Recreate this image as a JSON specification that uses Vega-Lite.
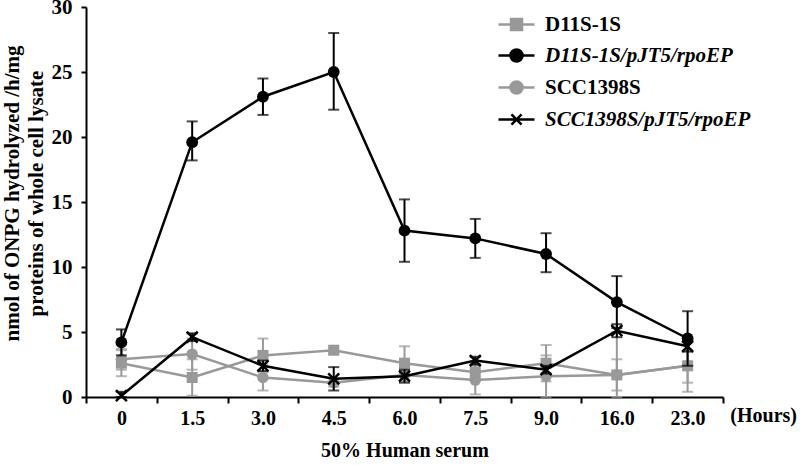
{
  "$schema": "https://vega.github.io/schema/vega-lite/v6.json",
  "width": 637,
  "height": 390,
  "autosize": {"type": "none"},
  "padding": {"left": 86, "top": 7, "right": 77, "bottom": 68},
  "background": "white",
  "title": {"text": "(Hours)", "orient": "bottom", "anchor": "end", "frame": "group", "align": "right", "baseline": "top", "offset": 0, "dx": 74, "dy": -54, "fontSize": 20, "fontWeight": "bold", "font": "Liberation Serif", "color": "black"},
  "config": {
    "font": "Liberation Serif",
    "view": {"stroke": null},
    "axis": {"domainColor": "black", "domainWidth": 2, "tickColor": "black", "tickWidth": 2, "labelColor": "black", "titleColor": "black", "labelFont": "Liberation Serif", "titleFont": "Liberation Serif", "labelFontWeight": "bold", "titleFontWeight": "bold", "labelFontSize": 20, "titleFontSize": 20, "grid": false},
    "axisY": {"tickSize": 5, "labelPadding": 9, "labelFontSize": 21, "titleFontSize": 21, "titleX": -85, "titleY": 186, "titleAngle": -90, "titleAlign": "center", "titleBaseline": "top", "titleLineHeight": 24}
  },
  "data": {"values": [
    {"time": "0", "series": "D11S-1S", "value": 2.6, "lo": 1.6, "hi": 3.6},
    {"time": "1.5", "series": "D11S-1S", "value": 1.5, "lo": 0.1, "hi": 2.9},
    {"time": "3.0", "series": "D11S-1S", "value": 3.2, "lo": 1.9, "hi": 4.5},
    {"time": "4.5", "series": "D11S-1S", "value": 3.6, "lo": 3.3, "hi": 3.9},
    {"time": "6.0", "series": "D11S-1S", "value": 2.6, "lo": 1.3, "hi": 3.9},
    {"time": "7.5", "series": "D11S-1S", "value": 1.9, "lo": 1.3, "hi": 2.5},
    {"time": "9.0", "series": "D11S-1S", "value": 2.6, "lo": 1.2, "hi": 4.0},
    {"time": "16.0", "series": "D11S-1S", "value": 1.7, "lo": 0.5, "hi": 2.9},
    {"time": "23.0", "series": "D11S-1S", "value": 2.4, "lo": 1.1, "hi": 3.5},
    {"time": "0", "series": "SCC1398S", "value": 2.9, "lo": 2.1, "hi": 3.7},
    {"time": "1.5", "series": "SCC1398S", "value": 3.3, "lo": 2.1, "hi": 4.5},
    {"time": "3.0", "series": "SCC1398S", "value": 1.5, "lo": 0.5, "hi": 2.5},
    {"time": "4.5", "series": "SCC1398S", "value": 1.1, "lo": 0.8, "hi": 1.4},
    {"time": "6.0", "series": "SCC1398S", "value": 1.7, "lo": 1.2, "hi": 2.2},
    {"time": "7.5", "series": "SCC1398S", "value": 1.3, "lo": 0.2, "hi": 2.4},
    {"time": "9.0", "series": "SCC1398S", "value": 1.6, "lo": 0.0, "hi": 3.2},
    {"time": "16.0", "series": "SCC1398S", "value": 1.7, "lo": 0.0, "hi": 5.0},
    {"time": "23.0", "series": "SCC1398S", "value": 2.4, "lo": 0.4, "hi": 4.4},
    {"time": "0", "series": "D11S-1S/pJT5/rpoEP", "value": 4.2, "lo": 3.2, "hi": 5.2},
    {"time": "1.5", "series": "D11S-1S/pJT5/rpoEP", "value": 19.6, "lo": 18.2, "hi": 21.2},
    {"time": "3.0", "series": "D11S-1S/pJT5/rpoEP", "value": 23.1, "lo": 21.7, "hi": 24.5},
    {"time": "4.5", "series": "D11S-1S/pJT5/rpoEP", "value": 25.0, "lo": 22.1, "hi": 28.0},
    {"time": "6.0", "series": "D11S-1S/pJT5/rpoEP", "value": 12.8, "lo": 10.4, "hi": 15.2},
    {"time": "7.5", "series": "D11S-1S/pJT5/rpoEP", "value": 12.2, "lo": 10.7, "hi": 13.7},
    {"time": "9.0", "series": "D11S-1S/pJT5/rpoEP", "value": 11.0, "lo": 9.6, "hi": 12.6},
    {"time": "16.0", "series": "D11S-1S/pJT5/rpoEP", "value": 7.3, "lo": 5.3, "hi": 9.3},
    {"time": "23.0", "series": "D11S-1S/pJT5/rpoEP", "value": 4.5, "lo": 2.4, "hi": 6.6},
    {"time": "0", "series": "SCC1398S/pJT5/rpoEP", "value": 0.1, "lo": 0.0, "hi": 0.4},
    {"time": "1.5", "series": "SCC1398S/pJT5/rpoEP", "value": 4.6, "lo": 4.3, "hi": 4.9},
    {"time": "3.0", "series": "SCC1398S/pJT5/rpoEP", "value": 2.4, "lo": 2.0, "hi": 2.8},
    {"time": "4.5", "series": "SCC1398S/pJT5/rpoEP", "value": 1.4, "lo": 0.5, "hi": 2.3},
    {"time": "6.0", "series": "SCC1398S/pJT5/rpoEP", "value": 1.6, "lo": 1.1, "hi": 2.1},
    {"time": "7.5", "series": "SCC1398S/pJT5/rpoEP", "value": 2.8, "lo": 2.5, "hi": 3.1},
    {"time": "9.0", "series": "SCC1398S/pJT5/rpoEP", "value": 2.1, "lo": 1.8, "hi": 2.4},
    {"time": "16.0", "series": "SCC1398S/pJT5/rpoEP", "value": 5.1, "lo": 4.6, "hi": 5.6},
    {"time": "23.0", "series": "SCC1398S/pJT5/rpoEP", "value": 3.9, "lo": 3.5, "hi": 4.3}
  ]},
  "encoding": {
    "x": {
      "field": "time", "type": "ordinal",
      "sort": ["0", "1.5", "3.0", "4.5", "6.0", "7.5", "9.0", "16.0", "23.0"],
      "scale": {"type": "band", "paddingInner": 0, "paddingOuter": 0},
      "axis": {"title": "50% Human serum", "labelAngle": 0, "tickBand": "extent", "tickSize": 6, "labelPadding": 5, "titlePadding": 12}
    },
    "color": {
      "field": "series", "type": "nominal",
      "scale": {"domain": ["D11S-1S", "D11S-1S/pJT5/rpoEP", "SCC1398S", "SCC1398S/pJT5/rpoEP"], "range": ["#999999", "#000000", "#999999", "#000000"]},
      "legend": {
        "title": null, "orient": "none", "legendX": 420, "legendY": 7, "padding": 0,
        "symbolSize": 324, "symbolStrokeWidth": 2.5, "labelFont": "Liberation Serif", "labelFontSize": 21, "labelFontWeight": "bold", "labelColor": "black", "labelOffset": 18, "rowPadding": 9, "labelLimit": 300,
        "encode": {
          "symbols": {"update": {
            "shape": {"signal": "datum.value === 'D11S-1S' ? 'M-2,0H2M-0.61,-0.61H0.61V0.61H-0.61Z' : datum.value === 'SCC1398S/pJT5/rpoEP' ? 'M-2,0H2M-0.56,-0.56L0.56,0.56M-0.56,0.56L0.56,-0.56' : 'M-2,0H2M-0.67,0A0.67,0.67,0,1,0,0.67,0A0.67,0.67,0,1,0,-0.67,0Z'"},
            "size": {"value": 324},
            "fill": {"signal": "indexof(datum.value, 'pJT5') >= 0 ? '#000000' : '#999999'"},
            "stroke": {"signal": "indexof(datum.value, 'pJT5') >= 0 ? '#000000' : '#999999'"},
            "strokeWidth": {"value": 2.5},
            "opacity": {"value": 1}
          }},
          "labels": {"update": {
            "fontStyle": {"signal": "indexof(datum.value, 'pJT5') >= 0 ? 'italic' : 'normal'"}
          }}
        }
      }
    }
  },
  "layer": [
    {
      "transform": [{"filter": {"field": "series", "oneOf": ["D11S-1S", "SCC1398S"]}}],
      "layer": [
        {"mark": {"type": "rule", "strokeWidth": 2}, "encoding": {"y": {"field": "lo", "type": "quantitative", "scale": {"domain": [0, 30], "nice": false}, "axis": {"title": ["nmol of ONPG hydrolyzed /h/mg", "proteins of whole cell lysate"], "values": [0, 5, 10, 15, 20, 25, 30]}}, "y2": {"field": "hi"}}},
        {"mark": {"type": "tick", "size": 11, "thickness": 2}, "encoding": {"y": {"field": "lo", "type": "quantitative", "axis": {"title": ["nmol of ONPG hydrolyzed /h/mg", "proteins of whole cell lysate"], "values": [0, 5, 10, 15, 20, 25, 30]}}}},
        {"mark": {"type": "tick", "size": 11, "thickness": 2}, "encoding": {"y": {"field": "hi", "type": "quantitative", "axis": {"title": ["nmol of ONPG hydrolyzed /h/mg", "proteins of whole cell lysate"], "values": [0, 5, 10, 15, 20, 25, 30]}}}},
        {"mark": {"type": "line", "strokeWidth": 2.5}, "encoding": {"y": {"field": "value", "type": "quantitative", "axis": {"title": ["nmol of ONPG hydrolyzed /h/mg", "proteins of whole cell lysate"], "values": [0, 5, 10, 15, 20, 25, 30]}}}},
        {"transform": [{"filter": "datum.series === 'SCC1398S'"}], "mark": {"type": "point", "shape": "circle", "filled": true, "size": 130, "opacity": 1}, "encoding": {"y": {"field": "value", "type": "quantitative", "axis": {"title": ["nmol of ONPG hydrolyzed /h/mg", "proteins of whole cell lysate"], "values": [0, 5, 10, 15, 20, 25, 30]}}}},
        {"transform": [{"filter": "datum.series === 'D11S-1S'"}], "mark": {"type": "point", "shape": "square", "filled": true, "size": 121, "opacity": 1}, "encoding": {"y": {"field": "value", "type": "quantitative", "axis": {"title": ["nmol of ONPG hydrolyzed /h/mg", "proteins of whole cell lysate"], "values": [0, 5, 10, 15, 20, 25, 30]}}}}
      ]
    },
    {
      "transform": [{"filter": {"field": "series", "oneOf": ["D11S-1S/pJT5/rpoEP", "SCC1398S/pJT5/rpoEP"]}}],
      "layer": [
        {"mark": {"type": "rule", "strokeWidth": 2}, "encoding": {"y": {"field": "lo", "type": "quantitative", "axis": {"title": ["nmol of ONPG hydrolyzed /h/mg", "proteins of whole cell lysate"], "values": [0, 5, 10, 15, 20, 25, 30]}}, "y2": {"field": "hi"}}},
        {"mark": {"type": "tick", "size": 11, "thickness": 2}, "encoding": {"y": {"field": "lo", "type": "quantitative", "axis": {"title": ["nmol of ONPG hydrolyzed /h/mg", "proteins of whole cell lysate"], "values": [0, 5, 10, 15, 20, 25, 30]}}}},
        {"mark": {"type": "tick", "size": 11, "thickness": 2}, "encoding": {"y": {"field": "hi", "type": "quantitative", "axis": {"title": ["nmol of ONPG hydrolyzed /h/mg", "proteins of whole cell lysate"], "values": [0, 5, 10, 15, 20, 25, 30]}}}},
        {"mark": {"type": "line", "strokeWidth": 2.5}, "encoding": {"y": {"field": "value", "type": "quantitative", "axis": {"title": ["nmol of ONPG hydrolyzed /h/mg", "proteins of whole cell lysate"], "values": [0, 5, 10, 15, 20, 25, 30]}}}},
        {"transform": [{"filter": "datum.series === 'D11S-1S/pJT5/rpoEP'"}], "mark": {"type": "point", "shape": "circle", "filled": true, "size": 140, "opacity": 1}, "encoding": {"y": {"field": "value", "type": "quantitative", "axis": {"title": ["nmol of ONPG hydrolyzed /h/mg", "proteins of whole cell lysate"], "values": [0, 5, 10, 15, 20, 25, 30]}}}},
        {"transform": [{"filter": "datum.series === 'SCC1398S/pJT5/rpoEP'"}], "mark": {"type": "point", "shape": "M-1,-1L1,1M-1,1L1,-1", "filled": false, "size": 120, "strokeWidth": 2.5, "opacity": 1}, "encoding": {"y": {"field": "value", "type": "quantitative", "axis": {"title": ["nmol of ONPG hydrolyzed /h/mg", "proteins of whole cell lysate"], "values": [0, 5, 10, 15, 20, 25, 30]}}}}
      ]
    }
  ]
}
